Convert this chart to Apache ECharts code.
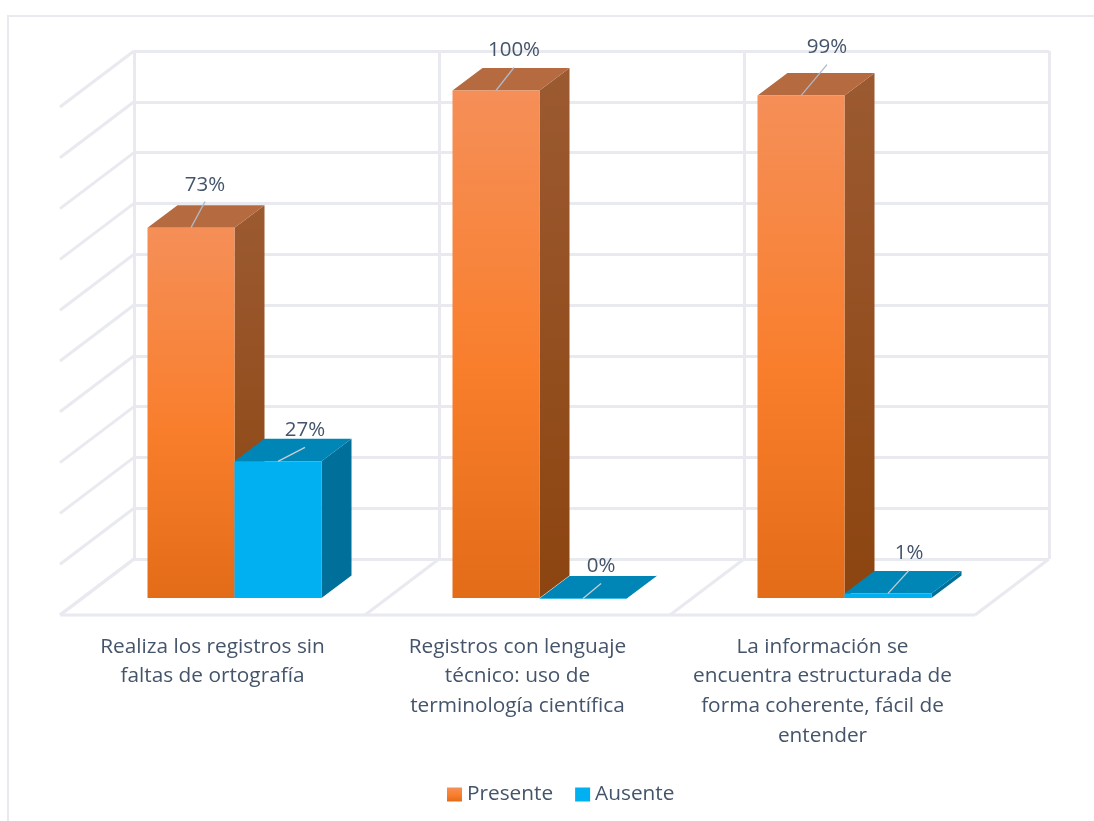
<!DOCTYPE html>
<html>
<head>
<meta charset="utf-8">
<style>
  html, body { margin: 0; padding: 0; background: #fff; }
  #chart { width: 1094px; height: 821px; }
</style>
<script src="https://cdn.jsdelivr.net/npm/echarts@6/dist/echarts.min.js"></script>
</head>
<body>
<div id="chart"></div>
<script>
const categories = [
  'Realiza los registros sin\nfaltas de ortografía',
  'Registros con lenguaje\ntécnico: uso de\nterminología científica',
  'La información se\nencuentra estructurada de\nforma coherente, fácil de\nentender'
];
const presente = [73, 100, 99];
const ausente = [27, 0, 1];
const yTicks = [0, 10, 20, 30, 40, 50, 60, 70, 80, 90, 100];

// where each value label sits relative to the middle of the bar's front top edge
const presenteLabelOffset = [[14, -44], [18, -41], [26, -49]];
const ausenteLabelOffset = [[27, -32], [18, -33], [21, -41]];

const gridColor = '#e8eaf0';
const textColor = '#44546a';
const fontFamily = '"Open Sans", sans-serif';

// depth of the whole floor, and of a bar, in pixels
const floorDx = -74, floorDy = 56;
const barDx = 30, barDy = -22.5;
const frontDx = -52, frontDy = 39.5;
const barWidth = 87;

const vGrad = (stops) => new echarts.graphic.LinearGradient(0, 0, 0, 1, stops);

const presenteFront = vGrad([
  { offset: 0, color: '#f58f58' },
  { offset: 0.55, color: '#f97e2c' },
  { offset: 1, color: '#e36c18' }
]);
const presenteSide = vGrad([
  { offset: 0, color: '#9c5a31' },
  { offset: 1, color: '#8c4510' }
]);

const wallLine = (x1, y1, x2, y2) => ({
  type: 'line',
  shape: { x1, y1, x2, y2 },
  style: { stroke: gridColor, lineWidth: 3 },
  silent: true
});

const renderSideLine = (params, api) => {
  const p = api.coord([0, api.value(0)]);
  const x = p[0] - api.size([1, 0])[0] / 2;
  return wallLine(x, p[1], x + floorDx, p[1] + floorDy);
};

const renderFloor = (params, api) => {
  const i = api.value(0);
  const p = api.coord([i, 0]);
  const band = api.size([1, 0])[0];
  const x = p[0] - band / 2;
  const children = [
    wallLine(x, p[1], x + floorDx, p[1] + floorDy),
    wallLine(x + floorDx, p[1] + floorDy, x + band + floorDx, p[1] + floorDy)
  ];
  if (i === categories.length - 1) {
    children.push(wallLine(x + band, p[1], x + band + floorDx, p[1] + floorDy));
  }
  return { type: 'group', children };
};

const makeBarRender = (left, colors, leaderColor, offsets) => (params, api) => {
  const i = api.value(0);
  const v = api.value(1);
  const top = api.coord([i, v]);
  const base = api.coord([i, 0]);
  const x0 = top[0] + frontDx + (left ? -barWidth : 0);
  const x1 = x0 + barWidth;
  const yTop = top[1] + frontDy;
  const yBase = base[1] + 39;
  const mid = (x0 + x1) / 2;
  const off = offsets[i];
  const poly = (points, fill) => ({ type: 'polygon', shape: { points }, style: { fill } });
  return {
    type: 'group',
    children: [
      poly([[x1, yTop], [x1 + barDx, yTop + barDy], [x1 + barDx, yBase + barDy], [x1, yBase]], colors.side),
      poly([[x0, yTop], [x0 + barDx, yTop + barDy], [x1 + barDx, yTop + barDy], [x1, yTop]], colors.top),
      poly([[x0, yTop], [x1, yTop], [x1, yBase], [x0, yBase]], colors.front),
      {
        type: 'line',
        shape: { x1: mid, y1: yTop, x2: mid + off[0], y2: yTop + off[1] + 18 },
        style: { stroke: leaderColor, lineWidth: 1.3 }
      },
      {
        type: 'text',
        style: {
          x: mid + off[0],
          y: yTop + off[1] + 1,
          text: v + '%',
          fill: textColor,
          font: '20.5px ' + fontFamily,
          textAlign: 'center',
          textVerticalAlign: 'middle'
        }
      }
    ]
  };
};

const option = {
  backgroundColor: '#fff',
  animation: false,
  grid: [
    { left: 134, top: 51, width: 915, height: 508 },
    { left: 60, top: 614, width: 915, height: 1 }
  ],
  xAxis: [
    {
      type: 'category',
      data: categories,
      axisLine: { show: false },
      axisTick: { show: false },
      axisLabel: { show: false },
      splitLine: { show: true, interval: 0, lineStyle: { color: gridColor, width: 3 } }
    },
    {
      type: 'category',
      gridIndex: 1,
      data: categories,
      axisLine: { show: false },
      axisTick: { show: false },
      splitLine: { show: false },
      axisLabel: {
        interval: 0,
        margin: 17,
        color: textColor,
        fontFamily,
        fontSize: 20.8,
        lineHeight: 29.7,
        verticalAlign: 'top'
      }
    }
  ],
  yAxis: [
    {
      type: 'value',
      min: 0,
      max: 100,
      interval: 10,
      axisLine: { show: false },
      axisTick: { show: false },
      axisLabel: { show: false },
      splitLine: { show: true, lineStyle: { color: gridColor, width: 3 } }
    },
    { type: 'value', gridIndex: 1, show: false }
  ],
  legend: {
    data: ['Presente', 'Ausente'],
    left: 442,
    top: 779,
    icon: 'rect',
    itemWidth: 15,
    itemHeight: 14,
    itemGap: 22,
    selectedMode: false,
    textStyle: { color: textColor, fontFamily, fontSize: 20.8 }
  },
  graphic: [{
    type: 'polyline',
    silent: true,
    shape: { points: [[8, 821], [8, 16], [1094, 16]] },
    style: { fill: 'none', stroke: gridColor, lineWidth: 2 }
  }],
  series: [
    {
      type: 'custom',
      name: 'paredLateral',
      silent: true,
      data: yTicks.map((t) => [t]),
      encode: { y: 0 },
      renderItem: renderSideLine,
      z: 1
    },
    {
      type: 'custom',
      name: 'piso',
      silent: true,
      data: categories.map((c, i) => [i]),
      encode: { x: 0 },
      renderItem: renderFloor,
      z: 1
    },
    {
      type: 'custom',
      name: 'Presente',
      data: presente.map((v, i) => [i, v]),
      encode: { x: 0, y: 1 },
      itemStyle: { color: presenteFront },
      renderItem: makeBarRender(true, { front: presenteFront, side: presenteSide, top: '#b56a3f' }, '#adb9ca', presenteLabelOffset),
      z: 3
    },
    {
      type: 'custom',
      name: 'Ausente',
      data: ausente.map((v, i) => [i, v]),
      encode: { x: 0, y: 1 },
      itemStyle: { color: '#00b0f0' },
      renderItem: makeBarRender(false, { front: '#00b0f0', side: '#006f99', top: '#0086b6' }, '#c9cdd2', ausenteLabelOffset),
      z: 4
    }
  ]
};

const myChart = echarts.init(document.getElementById('chart'));
myChart.setOption(option);
</script>
</body>
</html>
